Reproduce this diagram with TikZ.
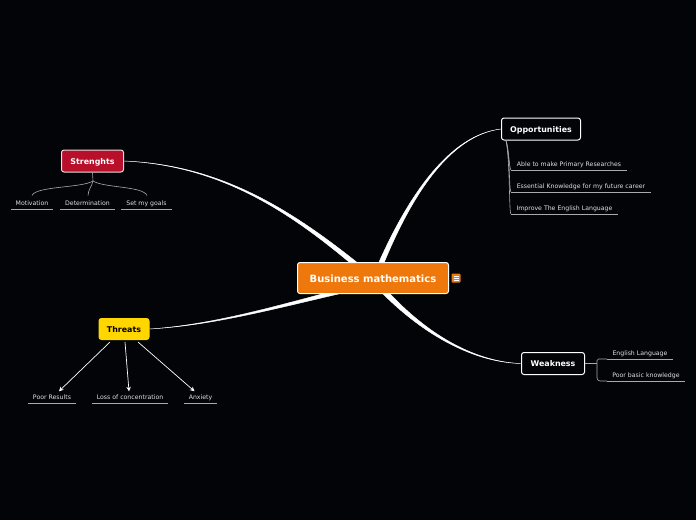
\documentclass[tikz,border=0pt]{standalone}
\usepackage{fontspec}
\setmainfont{DejaVu Sans}
\usetikzlibrary{arrows.meta, calc, backgrounds}
\definecolor{PageBlack}{RGB}{2, 4, 8}
\definecolor{RootOrange}{RGB}{239, 120, 13}
\definecolor{StrengthRed}{RGB}{184, 15, 42}
\definecolor{ThreatYellow}{RGB}{255, 214, 0}
\definecolor{LeafGrey}{RGB}{225, 225, 225}
\definecolor{TwigGrey}{RGB}{170, 170, 170}
\tikzset{
  topicbox/.style={draw=white, line width=1pt, rounded corners=2.5pt, inner sep=0pt, font=\bfseries\fontsize{7.9}{9}\selectfont, text=white, text height=7.5pt, text depth=1.5pt},
  leaflabel/.style={inner sep=0pt, text=LeafGrey, font=\fontsize{6.2}{7}\selectfont, text height=5pt, text depth=1.5pt},
  leafline/.style={draw=TwigGrey, line width=0.6pt},
  limb/.style={fill=white, draw=white, line width=0.4pt},
  twig/.style={draw=TwigGrey, line width=0.6pt},
  threatarrow/.style={draw=white, line width=0.7pt, -{Stealth[length=4.5pt,width=4.5pt]}}
}

\begin{document}
\begin{tikzpicture}[x=1pt, y=-1pt]
    \useasboundingbox (0,0) rectangle (696,520);

    % Root and topics
    \node[topicbox, fill=RootOrange, minimum width=151pt, minimum height=31pt, font=\bfseries\fontsize{10}{12}\selectfont, text height=9pt, text depth=0pt] (root) at (373,278) {Business mathematics};
    \node[topicbox, fill=PageBlack, minimum width=79pt, minimum height=22pt] (opportunities) at (541,129) {Opportunities};
    \node[topicbox, fill=PageBlack, minimum width=63pt, minimum height=22pt] (weakness) at (553,363.5) {Weakness};
    \node[topicbox, fill=StrengthRed, draw=LeafGrey, minimum width=62pt, minimum height=22pt] (strengths) at (92.5,161) {Strenghts};
    \node[topicbox, fill=ThreatYellow, draw=ThreatYellow, text=black, minimum width=50pt, minimum height=21pt] (threats) at (124,329) {Threats};

    % Note icon
    \node[fill=RootOrange, rounded corners=1pt, minimum size=9pt, inner sep=0pt] (note) at (456,278) {};
    \draw[white, line width=0.5pt] ($(note.center)+(-2.5,-2)$) -- ($(note.center)+(2.5,-2)$);
    \draw[white, line width=0.5pt] ($(note.center)+(-2.5,0)$) -- ($(note.center)+(2.5,0)$);
    \draw[white, line width=0.5pt] ($(note.center)+(-2.5,2)$) -- ($(note.center)+(2.5,2)$);

    % Opportunities leaves
    \node[leaflabel, minimum width=116pt] (primary) at (569,164.7) {Able to make Primary Researches};
    \node[leaflabel, minimum width=140pt] (career) at (581,186.7) {Essential Knowledge for my future career};
    \node[leaflabel, minimum width=107pt] (english) at (564.5,208.7) {Improve The English Language};

    % Weakness leaves
    \node[leaflabel, minimum width=66pt] (language) at (640,353.7) {English Language};
    \node[leaflabel, minimum width=78pt] (basic) at (646,375.7) {Poor basic knowledge};

    % Strenghts leaves
    \node[leaflabel, minimum width=42pt] (motivation) at (32,203.7) {Motivation};
    \node[leaflabel, minimum width=55pt] (determination) at (87.5,203.7) {Determination};
    \node[leaflabel, minimum width=51pt] (goals) at (146.5,203.7) {Set my goals};

    % Threats leaves
    \node[leaflabel, minimum width=48pt] (results) at (52,397.7) {Poor Results};
    \node[leaflabel, minimum width=76pt] (concentration) at (130,397.7) {Loss of concentration};
    \node[leaflabel, minimum width=33pt] (anxiety) at (200.5,397.7) {Anxiety};

    % Underlines
    \foreach \leaf in {primary, career, english, language, basic, motivation, determination, goals, results, concentration, anxiety}
      \draw[leafline] ([yshift=-1.8pt]\leaf.south west) -- ([yshift=-1.8pt]\leaf.south east);

    % Thick branches
    \begin{scope}[on background layer]
      \fill[PageBlack] (0,0) rectangle (696,520);
      \path[limb] ($(root)+(9.3,-11)$) .. controls (411.2,195.5) and (450,135.3) .. (opportunities.west)
        .. controls (450,134.7) and (408.8,194.5) .. ($(root)+(4.7,-13)$) -- cycle;
      \path[limb] ($(root)+(-11.4,-11.9)$) .. controls (290.8,209.1) and (220,164.7) .. (strengths.east)
        .. controls (220,165.3) and (289.2,210.9) .. ($(root)+(-14.6,-8.1)$) -- cycle;
      \path[limb] ($(root)+(-22.5,13.2)$) .. controls (280.3,307.2) and (215,325.3) .. (threats.east)
        .. controls (215,324.7) and (279.7,304.8) .. ($(root)+(-23.5,8.8)$) -- cycle;
      \path[limb] ($(root)+(11,9.2)$) .. controls (421,329) and (470,361.7) .. (weakness.west)
        .. controls (470,362.3) and (419,331) .. ($(root)+(7,12.8)$) -- cycle;
    \end{scope}

    % Opportunities twigs
    \coordinate (oppfoot) at ($(opportunities.south west)+(5,0)$);
    \draw[twig] (oppfoot) .. controls (509,150) and (509,166) .. ([yshift=-1.8pt]primary.south west);
    \draw[twig] (oppfoot) .. controls (510,155) and (509,188) .. ([yshift=-1.8pt]career.south west);
    \draw[twig] (oppfoot) .. controls (510,160) and (509,210) .. ([yshift=-1.8pt]english.south west);

    % Weakness twigs
    \coordinate (weakfork) at (597,363.5);
    \draw[twig] (weakness.east) -- (weakfork);
    \draw[twig, rounded corners=1.5pt] (weakfork) |- ([yshift=-1.8pt]language.south west);
    \draw[twig, rounded corners=3pt] (weakfork) |- ([yshift=-1.8pt]basic.south west);

    % Strenghts twigs
    \coordinate (strfork) at (93,181);
    \draw[twig] (strengths.south) -- (strfork);
    \draw[twig] (strfork) .. controls (82,188) and (36,186) .. (32,195.5);
    \draw[twig] (strfork) .. controls (92,186) and (88,190) .. (88,195.5);
    \draw[twig] (strfork) .. controls (104,188) and (143,186) .. (147,195.5);

    % Threats arrows
    \draw[threatarrow] ($(threats.south)+(-14,2)$) -- ($(results.north)+(7,-3)$);
    \draw[threatarrow] ($(threats.south)+(1,2)$) -- ($(concentration.north)+(-1,-3)$);
    \draw[threatarrow] ($(threats.south)+(14,2)$) -- ($(anxiety.north)+(-6,-3)$);
  \end{tikzpicture}
\end{document}
